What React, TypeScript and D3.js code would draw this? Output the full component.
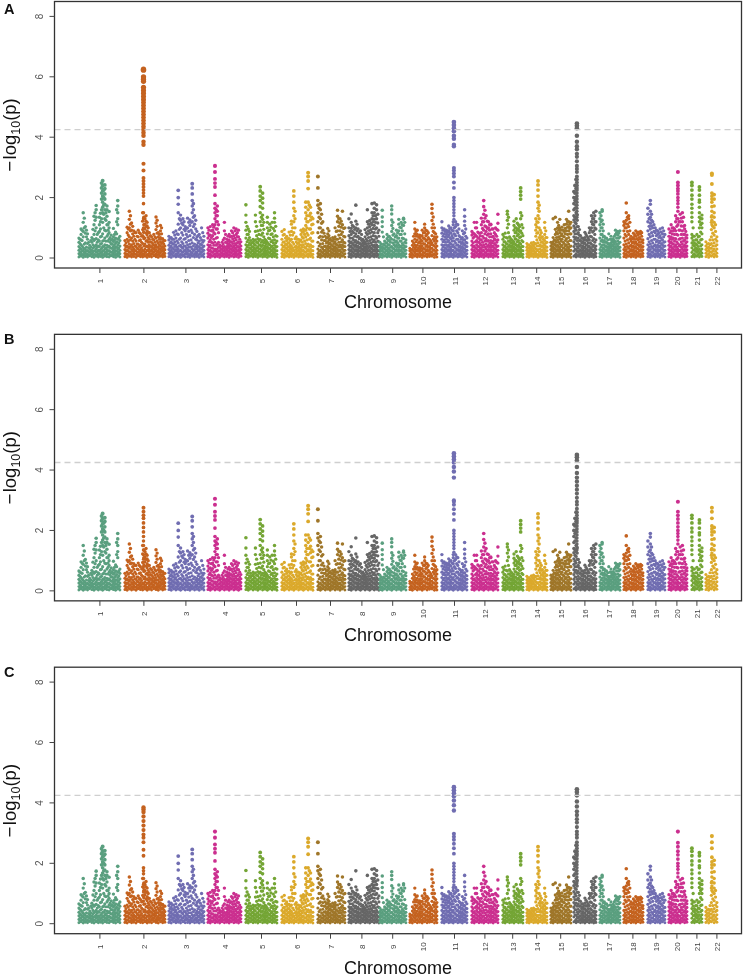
import React from "react";
import * as d3 from "d3";

// chromosome extents and tick positions on the genome axis (Mb-like units)
const chromNames = ["1","2","3","4","5","6","7","8","9","10","11","12","13","14","15","16","17","18","19","20","21","22"];
const chromStart = [122,352,572,767,957,1137,1317,1472,1627,1777,1937,2087,2242,2362,2482,2597,2727,2847,2967,3072,3187,3257];
const chromEnd = [327,552,747,932,1112,1292,1452,1622,1757,1912,2062,2217,2342,2462,2582,2707,2827,2942,3052,3162,3237,3312];
const chromTick = [227,447,657,850,1035,1210,1380,1537,1691,1842,2000,2152,2291,2411,2531,2652,2772,2892,3007,3112,3212,3312];
const yTicks = [0,2,4,6,8];
const threshold = 4.25;
const palette = ["#5a9f7f","#c4621f","#706db1","#cb2f8f","#74a535","#dba92b","#9f7629","#666666"];
const panelNames = ["A","B","C"];

// values are -log10(p) x 100, one inner list per position along the chromosome
const chr1 = [[3,14,26,38,52,66],[6,17,30,44,60,78,96],[2,12,24,35,70,88,118,150],[5,16,28,50,82,104],[3,13,25,48,62,80],[7,18,30,42],[4,15,26,52,68],[2,12,23,36,58,78,110,138],[6,18,30,44,64,100,135,160,174],[3,14,26,40,60,84],[5,16,28,46,70,96,120,148],[2,12,24,38,56,80,118,150,168,185,205,222,240,256],[6,17,30,44,66,92,130,160,178,195,212,230,242],[4,15,27,42,72,110,138,160,172],[3,13,25,40,62,84,100,118,154],[7,18,32,46,60,76],[4,14,26,38,55,70,98],[2,12,24,36,50,66,86],[6,16,30,44,62,110,130,150,172,190],[3,14,26,40,58,72]];
const chr2 = [[4,15,28,42,58],[2,13,26,40,62,84,102],[6,18,32,46,70,100,128,155],[3,14,28,44,66,92,116],[5,16,30,48,72,90],[2,12,24,38,56,84],[7,18,30,46,70,92],[4,15,28,42,60,80],[3,13,26,48,74,94,122,150],[6,17,30,46,66,96,112,130],[2,12,26,40,58,76,90,106,118],[5,16,30,44,62,84],[3,14,26,38,52,70],[7,18,30,42,60,78],[4,14,28,44,66,94,116,136],[2,12,24,36,50,70,84],[6,17,28,40,54,68,90,108],[3,14,26,38,52,64],[5,15,27,40,58]];
const chr3 = [[4,15,28,42,60,72],[2,13,26,40,54,68],[6,17,30,46,62,85],[3,14,28,44,66,90],[5,16,30,50,78,112,150,178,200,224],[2,12,26,42,66,100,125,142],[6,18,32,48,76,110,130],[3,14,26,40,64,90,104],[4,15,28,44,70,100,132],[2,12,24,46,74,108,126],[6,17,30,50,84,120,150,172,190,212,232,246],[3,14,28,46,78,112,140],[5,16,30,42,60,70,88],[2,12,26,38,56,78],[6,18,30,44,60,100],[3,14,26,40,58,72]];
const chr4 = [[4,15,28,44,66,82,100],[2,13,26,42,60,76,104],[6,18,32,50,74,92,110],[3,14,30,52,80,110,130,150,165,180,208,235,248,262,285,305],[5,16,30,46,68,96,120,140,155,172],[2,12,24,36,44],[6,16,28,40,52],[3,14,26,38,66,90,118],[5,15,27,38,50,62],[2,12,24,36,48,60,78],[6,17,28,40,54,72,90],[3,14,26,40,56,74,100],[5,16,28,42,60,78,96],[2,13,26,38,54,70,92],[6,16,28,40,54]];
const chr5 = [[4,15,28,44,66,92,118,142,176],[2,13,26,42,60,78,96],[6,17,30,44,58],[3,14,26,38,52,62],[5,16,28,42,60,88,120,142],[2,12,24,36,50,64,90],[6,18,30,44,62,92,120,150,170,190,205,222,236],[3,14,28,42,58,82,108,128,142,165,182,198,215],[5,15,27,40,54,62],[2,13,26,38,52,80,100,118,135],[6,17,30,44,64,92,112],[3,14,26,40,58,80,118],[5,16,28,42,60,90,118,132,150],[2,12,24,38,56,72]];
const chr6 = [[4,15,28,44,62,88],[2,13,26,40,54,78,94],[6,17,30,44,58,72],[3,14,26,38,50,64,86],[5,16,28,40,62,88,112,122],[2,12,26,46,84,120,140,165,185,205,222],[6,17,28,40,54,70],[3,14,26,38,50,62],[5,15,28,42,60,78,92],[2,13,26,44,66,86,96],[6,18,32,48,70,92,108,130,150,168,185],[3,14,28,46,76,120,160,185,230,255,270,282],[5,16,30,44,66,96,126,148,168],[2,12,24,38,56,84,112,130]];
const chr7 = [[4,15,30,52,84,120,150,175,190,232,270],[2,13,26,46,72,100,130,160,180],[6,17,30,48,70,92,120],[3,14,26,40,58,72],[5,16,28,40,54,68,80,98],[2,12,24,36,50,64],[6,16,28,40,56,68],[3,14,26,38,54,70,100],[5,15,27,42,62,90,120,138,158],[2,13,26,44,66,90,115,130],[6,17,30,44,60,86,110,155],[3,14,26,38,50,70,100]];
const chr8 = [[4,15,28,42,56,74,100,130],[2,13,26,40,54,78,98,118,146],[6,17,30,44,60,84,104],[3,14,28,42,58,80,100,122,175],[5,16,28,40,54,72,96],[2,12,24,36,48,66,90],[6,16,28,40,50,62],[3,14,26,38,52,70,94],[5,15,27,40,56,78,100,120,160],[2,13,26,40,58,82,104,124],[6,17,30,44,62,86,110,130,150,180],[3,14,28,42,60,84,108,128,150,165,182],[5,16,30,44,66,100,130,160,176],[2,12,24,38,54,72,92]];
const chr9 = [[4,15,28,40,52],[2,13,26,38,86,104,120,136,158],[6,17,30,42,56],[3,14,26,38,50,64,78],[5,16,28,44,58,72],[2,12,24,38,62,88,108,126,146,160,172],[6,17,30,44,60,80],[3,14,28,42,56,74,92],[5,15,28,44,66,90,112,128],[2,13,26,40,56,78,100,118],[6,16,30,42,64,108,128,132],[3,14,26,38,50,60]];
const chr10 = [[4,12,24,32],[2,14,28,42,56],[6,17,30,44,62,80,96,118],[3,14,28,42,60,78,92],[5,16,28,40,54,66,76],[2,12,26,40,56,74,92],[6,17,30,46,64,84,100,112],[3,14,28,42,60,78,90],[5,15,27,38,50,62],[6,18,32,50,74,100,124,148,164,178],[2,13,26,40,56,70,84,100],[3,14,26,40,56,70]];
const chr11 = [[4,15,28,44,62,82,100,120],[2,13,26,42,60,80,96],[6,17,30,44,62,78,92],[3,14,28,42,58,76,90,106],[5,16,30,46,64,82,100],[2,12,26,44,66,90,110,120],[6,18,32,50,74,104,120],[3,14,28,44,62,84,110],[5,15,27,40,54,70],[2,13,26,38,52,68,90],[6,17,30,44,60,84,108,122,138,160],[3,14,26,38,50,66]];
const chr12 = [[4,15,28,42,56,76,88],[2,13,26,40,70,80,118],[6,17,30,44,58,72,100,118],[3,14,26,38,52,66,82],[5,16,28,42,60,84,110,132],[2,12,26,44,66,92,120,145,170,190],[6,17,30,46,64,88,104,140],[3,14,28,42,58,80,100,120],[5,15,28,42,58,80,110,112],[2,13,26,40,56,72,96],[6,17,30,44,60,78,100],[3,14,26,40,60,92,115,145]];
const chr13 = [[4,15,28,44,62,78],[2,13,26,40,54,82],[6,17,30,46,66,100,125,145,155],[3,14,28,42,56,70],[5,16,28,40,50,60],[2,12,26,38,54,72,92,108,122],[6,17,30,44,62,84,100,130],[3,14,28,42,58,78,96,110],[5,16,30,46,70,90,130,150,195,208,220,232],[2,12,24,38,54,74,100]];
const chr14 = [[4,14,26,36,48],[2,13,24,34,44],[6,16,26,36,50],[3,14,26,40,52],[5,16,30,48,72,92,110,130],[2,12,28,50,84,118,140,165,185,205,225,242,255],[6,17,30,44,60,76,92],[3,14,26,40,54,70],[5,15,28,42,58,78,100,118],[2,12,24,36,52,68]];
const chr15 = [[4,15,28,40,52],[2,13,26,38,54,68,130],[6,17,30,44,58,78,95,135],[3,14,28,42,60,80,100,118],[5,16,30,46,64,84,100,128],[2,12,26,42,62,80,102],[6,18,32,48,70,88,110],[3,14,28,44,64,90,112,128],[5,16,30,46,68,90,104,120,155],[2,13,26,40,58,80,100,118]];
const chr16 = [[6,22,38,54,70,88,106,126,140,160,180,200,220],[3,14,28,46,68,92,114,130,150,175,200,230,260],[6,18,32,48,66,84,104],[3,14,26,42,58,74],[5,15,27,40,54,66],[2,12,24,36,50,68,85],[6,16,28,42,58,72],[3,14,26,40,60,84,100],[5,16,30,46,70,100,120,140],[2,12,26,42,64,90,110,130,150],[4,15,28,40,60,96,120,155]];
const chr17 = [[4,15,28,46,66,90,110,130,150],[2,13,26,42,60,78,100,125,155,160],[6,17,30,44,58,72],[3,14,26,38,52,66],[5,15,27,38,48,80],[2,12,24,36,50,62,72],[6,16,28,40,52,64],[3,14,26,38,54,78,92],[5,15,28,40,56,76,88],[2,12,24,36,52,70,90]];
const chr18 = [[4,15,28,44,66,90,108,120],[2,13,28,46,72,100,125,150,182],[6,18,32,50,78,104,130,140],[3,14,28,42,56,72],[5,15,27,40,54,68,82],[2,12,24,38,54,72,90],[6,17,30,44,60,76,86],[3,14,28,44,62,80,88],[5,15,27,38,50,60]];
const chr19 = [[4,15,28,44,64,90,120,145,165],[2,13,28,46,70,96,115,135,155,178,190],[6,18,32,50,74,100,120],[3,14,28,44,62,84,100],[5,16,28,42,58,78,90],[2,12,26,40,56,74,96],[6,17,30,44,60,80,100],[3,14,26,40,54,78]];
const chr20 = [[4,15,28,42,56,72,96],[2,13,26,40,54,70,90,110],[6,17,30,46,66,90,100],[3,14,28,44,64,90,120,140],[5,16,30,48,76,110,130,155],[2,12,26,44,64,92,120,145],[6,17,30,46,66,90,120,150],[3,14,28,42,60,78,96,108],[5,15,27,40,54,66,76]];
const chr21 = [[4,18,34,50,66,78,120,135,150,165,178,195,208,225,240,250],[3,14,28,40,50,72],[6,18,30,44,60,78],[3,16,30,50,72,100,120,135,150,168,185,192,208,225,235],[5,16,30,44,62,80,100,115,130,142]];
const chr22 = [[4,16,28,40,54],[2,14,26,36,48],[6,18,32,48,70,94,118,136],[3,14,30,50,76,100,118,135,150,172,195,210],[5,16,30,44,56,70]];
const chromColumns = [chr1,chr2,chr3,chr4,chr5,chr6,chr7,chr8,chr9,chr10,chr11,chr12,chr13,chr14,chr15,chr16,chr17,chr18,chr19,chr20,chr21,chr22];

// further points lying between the positions above
const chr1b = [[9,20,33,48,62],[11,24,40,58,92],[8,19,31,46,100,132],[10,22,36,70,92],[9,21,34,52],[12,23,36,58],[8,20,33,44,62,95],[11,24,40,62,90,125,150],[9,21,36,52,78],[10,22,38,56,88,110,135],[8,19,32,48,72,130,160,195,215,232,248],[11,24,38,58,100,145,175,200,225],[9,20,34,56,90,125,150],[12,22,36,56,78,92,110],[8,21,35,52,68],[10,20,32,46,62],[9,19,31,44,60,78],[11,22,36,54,80,120,160],[8,20,34,50,66]];
const chr2b = [[9,22,36,50],[11,24,36,55,76,96],[8,20,38,60,90,112,140],[10,22,36,56,80,105],[12,24,40,62,84],[8,18,32,46,72],[10,22,38,58,84],[9,20,34,52,72],[11,22,40,64,86,110,135],[8,20,38,56,82,104,122,140],[10,24,36,52,68,84,100],[9,22,38,54,74],[12,20,32,46,62],[10,24,36,52,70],[9,20,36,56,82,105,125],[11,18,30,44,62,78],[8,22,34,48,62,80,100],[10,20,32,46,58]];
const chr3b = [[9,21,35,50,66],[11,20,33,48,62],[8,24,38,54,76],[10,22,36,56,80],[8,22,40,62,95,130],[11,20,36,54,84,115],[9,24,40,62,95,120],[12,20,34,52,78,98],[8,22,36,58,88,118],[10,18,36,60,92,118],[9,24,40,68,104,135,160,180],[11,20,36,62,96,125],[8,22,36,50,74],[12,20,32,46,68],[9,24,36,52,84]];
const chr4b = [[9,22,36,54,74,92],[8,20,34,52,68,90],[11,24,42,62,84,102],[8,22,42,66,96,120,140,160],[10,22,36,52,84,110],[8,18,30,40],[11,22,34,46,60],[9,20,32,52,78],[10,21,32,44,56,72],[8,18,30,42,54,70],[11,22,34,48,64,84],[9,20,33,48,66,90],[10,22,36,50,70,84],[8,19,32,46,62]];
const chr5b = [[9,22,36,54,78,105],[8,20,34,50,68,88],[11,24,36,50],[9,20,32,46,58],[10,22,34,52,74,105],[8,18,30,42,58,78],[11,24,38,52,76,108,135],[9,21,34,50,70,95,118],[10,21,34,46,58],[8,19,32,46,66,90],[11,24,36,54,78,102],[9,20,32,50,70,98],[10,22,36,50,74,105]];
const chr6b = [[9,22,36,52,76],[8,20,34,46,66],[11,24,36,50,64],[9,20,32,44,58,76],[10,22,34,52,76,100],[8,18,36,64,100,130,155],[11,22,34,48,62],[9,20,32,44,56],[10,22,36,52,70,86],[8,20,36,56,78,92],[11,24,40,60,82,100,120,140],[9,22,38,62,96,140,175],[10,24,38,56,82,110,135]];
const chr7b = [[9,22,40,68,100,135,165],[8,20,36,60,86,115,145],[11,24,38,58,82],[9,20,34,50,66],[10,22,34,46,60,74,90],[8,18,30,44,58],[11,22,34,48,62],[9,20,32,46,62,88],[10,22,36,52,76,105,130],[8,20,36,54,78,102,122],[11,24,38,52,72,98]];
const chr8b = [[9,22,36,50,66,88],[8,20,34,48,66,88,108],[11,24,38,52,72,95],[9,22,36,50,70,90,112],[10,22,34,48,64,84],[8,18,30,42,58,78],[11,22,34,46,56],[9,20,32,46,62,84],[10,22,34,48,68,90,112],[8,20,34,50,70,94,115],[11,24,38,54,74,98,120,140],[9,22,36,52,72,96,118,140],[10,24,38,56,84,116,145]];
const chr9b = [[9,22,34,46],[8,20,32,46,70],[11,24,36,50],[9,20,32,44,58,70],[10,22,36,52,66],[8,18,32,50,76,98,118],[11,24,38,52,70],[9,22,36,50,66,84],[10,22,36,56,78,102],[8,20,34,48,66,90,110],[11,24,36,52,80,118]];
const chr10b = [[8,18,28],[9,22,36,50,72],[11,24,36,54,72,88],[9,22,34,50,70],[10,22,34,48,60,72],[8,18,32,48,66,84],[11,24,38,56,74,92],[9,22,36,50,68,84],[10,21,32,44,56],[11,26,42,62,88,112,136],[9,20,34,48,64,80]];
const chr11b = [[9,22,36,54,72,92],[8,20,34,52,70,88],[11,24,38,54,70,85],[9,22,36,50,68,84,98],[10,24,38,56,74,92],[8,18,36,56,80,100],[11,26,42,62,90,112],[9,22,36,54,74,96],[10,21,34,48,62],[8,20,32,46,60,80],[11,24,38,52,72,96]];
const chr12b = [[9,22,36,50,66,82],[8,20,34,54,76,100],[11,24,38,52,66,86],[9,20,32,46,60,74],[10,22,36,52,72,98,120],[8,18,36,56,80,106,132,158],[11,24,38,56,76,98,122],[9,22,36,50,70,92,110],[10,22,36,50,70,96],[8,20,34,48,64,84],[11,24,38,52,72,95]];
const chr13b = [[9,22,36,54,70],[8,20,34,48,68],[11,24,38,56,84,112,135],[9,22,36,50,64],[10,22,34,46,56],[8,20,32,46,64,84,100],[11,24,38,54,74,92,115],[9,22,36,50,68,88,104],[10,24,38,58,82,110,140]];
const chr14b = [[8,20,32,42],[9,18,30,40],[11,22,32,44],[9,20,34,46],[10,24,40,60,82,102,120],[8,20,40,68,100,130,155,175],[11,24,38,52,68,84],[9,20,34,48,62],[10,22,36,50,68,90]];
const chr15b = [[9,22,34,46],[8,20,32,46,60],[11,24,38,52,68,86],[9,22,36,52,70,92,108],[10,24,38,56,74,92],[8,18,34,52,72,92],[11,26,40,58,80,98],[9,22,36,54,78,102,120],[10,24,38,58,80,98,112]];
const chr16b = [[9,30,46,62,80,98,118,135,165,190,215,240],[8,22,38,58,80,104,125,142],[11,24,40,58,76,94],[9,20,34,50,66],[10,21,34,48,60],[8,18,30,44,60,78],[11,22,36,50,66],[9,20,34,50,72,92],[10,24,38,58,86,112,130],[8,20,34,52,78,100,120,140]];
const chr17b = [[9,22,36,56,78,100,120,140],[8,20,34,52,70,90,112],[11,24,38,52,66],[9,20,32,46,60],[10,21,32,44,62],[8,18,30,44,56],[11,22,34,46,58,72],[9,20,32,46,66,84],[10,22,34,48,66,82]];
const chr18b = [[9,22,36,56,78,100,115],[8,20,38,60,88,112,135],[11,24,40,64,90,118],[9,22,36,50,64],[10,21,34,48,62,76],[8,18,32,46,64,82],[11,24,38,52,68,82],[9,22,36,54,72,84]];
const chr19b = [[9,22,36,54,78,105,130],[8,20,38,58,84,106,125,145],[11,26,40,62,88,110],[9,22,36,54,74,92],[10,22,36,50,68,84],[8,18,34,48,66,86],[11,24,38,52,70,90]];
const chr20b = [[9,22,36,50,64,84],[8,20,34,48,62,80,100],[11,24,38,56,78,96],[9,22,36,54,78,105,130],[10,24,40,62,92,120],[8,18,36,54,78,106,132],[11,24,38,56,78,105,135],[9,22,36,50,68,88]];
const chr21b = [[9,26,42,58,72,100],[8,22,34,46,60],[11,24,38,52,70],[9,22,40,60,86,110,130]];
const chr22b = [[9,22,34,46],[8,20,32,44,60],[11,24,40,60,82,105],[9,22,40,62,88,110]];
const chromBetween = [chr1b,chr2b,chr3b,chr4b,chr5b,chr6b,chr7b,chr8b,chr9b,chr10b,chr11b,chr12b,chr13b,chr14b,chr15b,chr16b,chr17b,chr18b,chr19b,chr20b,chr21b,chr22b];

// tall peaks that differ from panel to panel
const peak2A = [625,622,600,592,585,565,555,545,535,525,515,505,495,485,475,465,455,445,435,425,415,405,385,375,312,290,265,255,245,235,225,215,205,180,150,130,100,85,70];
const peak2B = [275,262,250,240,225,210,195,180,165,150,135,120,105,95,80,70];
const peak2C = [385,378,370,355,340,325,310,295,285,270,245,225,185,175,165,150,130,120,105,90,75];
const peak11A = [450,440,430,420,405,395,375,370,298,290,280,270,250,232,200,190,180,170,160,150,140,128];
const peak11B = [455,445,435,425,410,395,375,300,295,285,270,255,235,200,190,180,170,160,150,140,128];
const peak11C = [452,442,432,422,408,392,375,298,288,278,265,250,232,200,190,180,170,160,150,140,128];
const peak16A = [445,438,430,405,385,370,360,345,335,320,305,295,285,270,260,250,240,232,225,215,205,195,185,175,165,155,145,135];
const peak16B = [450,442,432,410,390,375,362,348,335,322,308,295,285,272,260,250,240,232,225,215,205,195,185,175,165,155,145,135];
const peak16C = [445,436,425,405,388,372,360,346,335,320,305,295,285,270,260,250,240,232,225,215,205,195,185,175,165,155,145,135];
const peak20A = [285,250,240,230,222,212,200,190,180,168];
const peak20B = [295,262,250,238,225,212,200,190,180,168];
const peak20C = [305,268,255,240,228,214,200,190,180,168];
const peak22A = [280,275,245,215,205,195,185,170,155,140,125,110];
const peak22B = [275,262,240,215,205,195,185,170,155,140,125,110];
const peak22C = [290,270,250,220,205,195,185,170,155,140,125,110];
const peakChrom = [1,10,15,19,21];
const peakPos = [445,1997,2612,3117,3287];
const peaksA = [peak2A,peak11A,peak16A,peak20A,peak22A];
const peaksB = [peak2B,peak11B,peak16B,peak20B,peak22B];
const peaksC = [peak2C,peak11C,peak16C,peak20C,peak22C];
const panelPeaks = [peaksA,peaksB,peaksC];

const sans = "'Liberation Sans', Arial, sans-serif";
const WIDTH = 744;
const HEIGHT = 976;
const BOX_LEFT = 54.5;
const BOX_RIGHT = 741.5;
const PANEL_STEP = 332.85;
const LETTER_Y = [14.3, 344, 677];

const x = d3.scaleLinear().domain([0, 3437]).range([BOX_LEFT, BOX_LEFT + 687.4]);
const y = d3.scaleLinear().domain([0, 8]).range([258, 16.4]);
const radius = d3.scaleLinear().domain([0, 6.25]).range([1.45, 2.7]);

function Panel({ index }: { index: number }) {
  const top = 1.5;
  const bottom = 268;
  const peaks = panelPeaks[index];
  return (
    <g transform={`translate(0,${index * PANEL_STEP})`}>
      <text x={4} y={LETTER_Y[index] - index * PANEL_STEP} fontFamily={sans} fontWeight="bold" fontSize={14.5} fill="#111">{panelNames[index]}</text>
      {chromColumns.map((cols, c) => {
        const pos = d3.scaleLinear().domain([0, cols.length - 1]).range([chromStart[c], chromEnd[c]]);
        return (
          <g key={c} fill={palette[c % palette.length]}>
            {cols.flatMap((vals, i) =>
              vals.map((v, j) => (
                <circle key={`${i}-${j}`} cx={x(pos(i))} cy={y(v / 100)} r={radius(v / 100)} />
              ))
            )}
            {chromBetween[c].flatMap((vals, i) =>
              vals.map((v, j) => (
                <circle key={`b${i}-${j}`} cx={x(pos(i + 0.5))} cy={y(v / 100)} r={radius(v / 100)} />
              ))
            )}
            {peaks.map((vals, p) =>
              peakChrom[p] === c
                ? vals.map((v, j) => (
                    <circle key={`p${p}-${j}`} cx={x(peakPos[p])} cy={y(v / 100)} r={radius(v / 100)} />
                  ))
                : null
            )}
          </g>
        );
      })}
      <line x1={BOX_LEFT} x2={BOX_RIGHT} y1={y(threshold)} y2={y(threshold)} stroke="#cfcfcf" strokeWidth={1.3} strokeDasharray="6 4" />
      <rect x={BOX_LEFT} y={top} width={BOX_RIGHT - BOX_LEFT} height={bottom - top} fill="none" stroke="#333" strokeWidth={1.3} />
      {yTicks.map((t) => (
        <g key={t}>
          <line x1={BOX_LEFT - 5} x2={BOX_LEFT} y1={y(t)} y2={y(t)} stroke="#444" strokeWidth={1} />
          <text transform={`translate(42.5,${y(t)}) rotate(-90)`} textAnchor="middle" fontFamily={sans} fontSize={10} fill="#555">{t}</text>
        </g>
      ))}
      {chromNames.map((n, c) => (
        <g key={n}>
          <line x1={x(chromTick[c])} x2={x(chromTick[c])} y1={bottom} y2={bottom + 5} stroke="#444" strokeWidth={1} />
          <text transform={`translate(${x(chromTick[c]) + 3},281) rotate(-90)`} textAnchor="middle" fontFamily={sans} fontSize={8} fill="#444">{n}</text>
        </g>
      ))}
      <text x={398} y={308.4} textAnchor="middle" fontFamily={sans} fontSize={18} fill="#111">Chromosome</text>
      <text transform="translate(15.5,135) rotate(-90)" textAnchor="middle" fontFamily={sans} fontSize={18.5} fill="#111">
        −<tspan dx={1.5}>log</tspan><tspan fontSize={12.5} dy={4}>10</tspan><tspan dy={-4}>(p)</tspan>
      </text>
    </g>
  );
}

export default function App() {
  return (
    <svg width={WIDTH} height={HEIGHT} viewBox={`0 0 ${WIDTH} ${HEIGHT}`} style={{ position: "absolute", left: 0, top: 0, background: "#fff", filter: "blur(0.35px)" }}>
      {panelNames.map((_, i) => (
        <Panel key={i} index={i} />
      ))}
    </svg>
  );
}
